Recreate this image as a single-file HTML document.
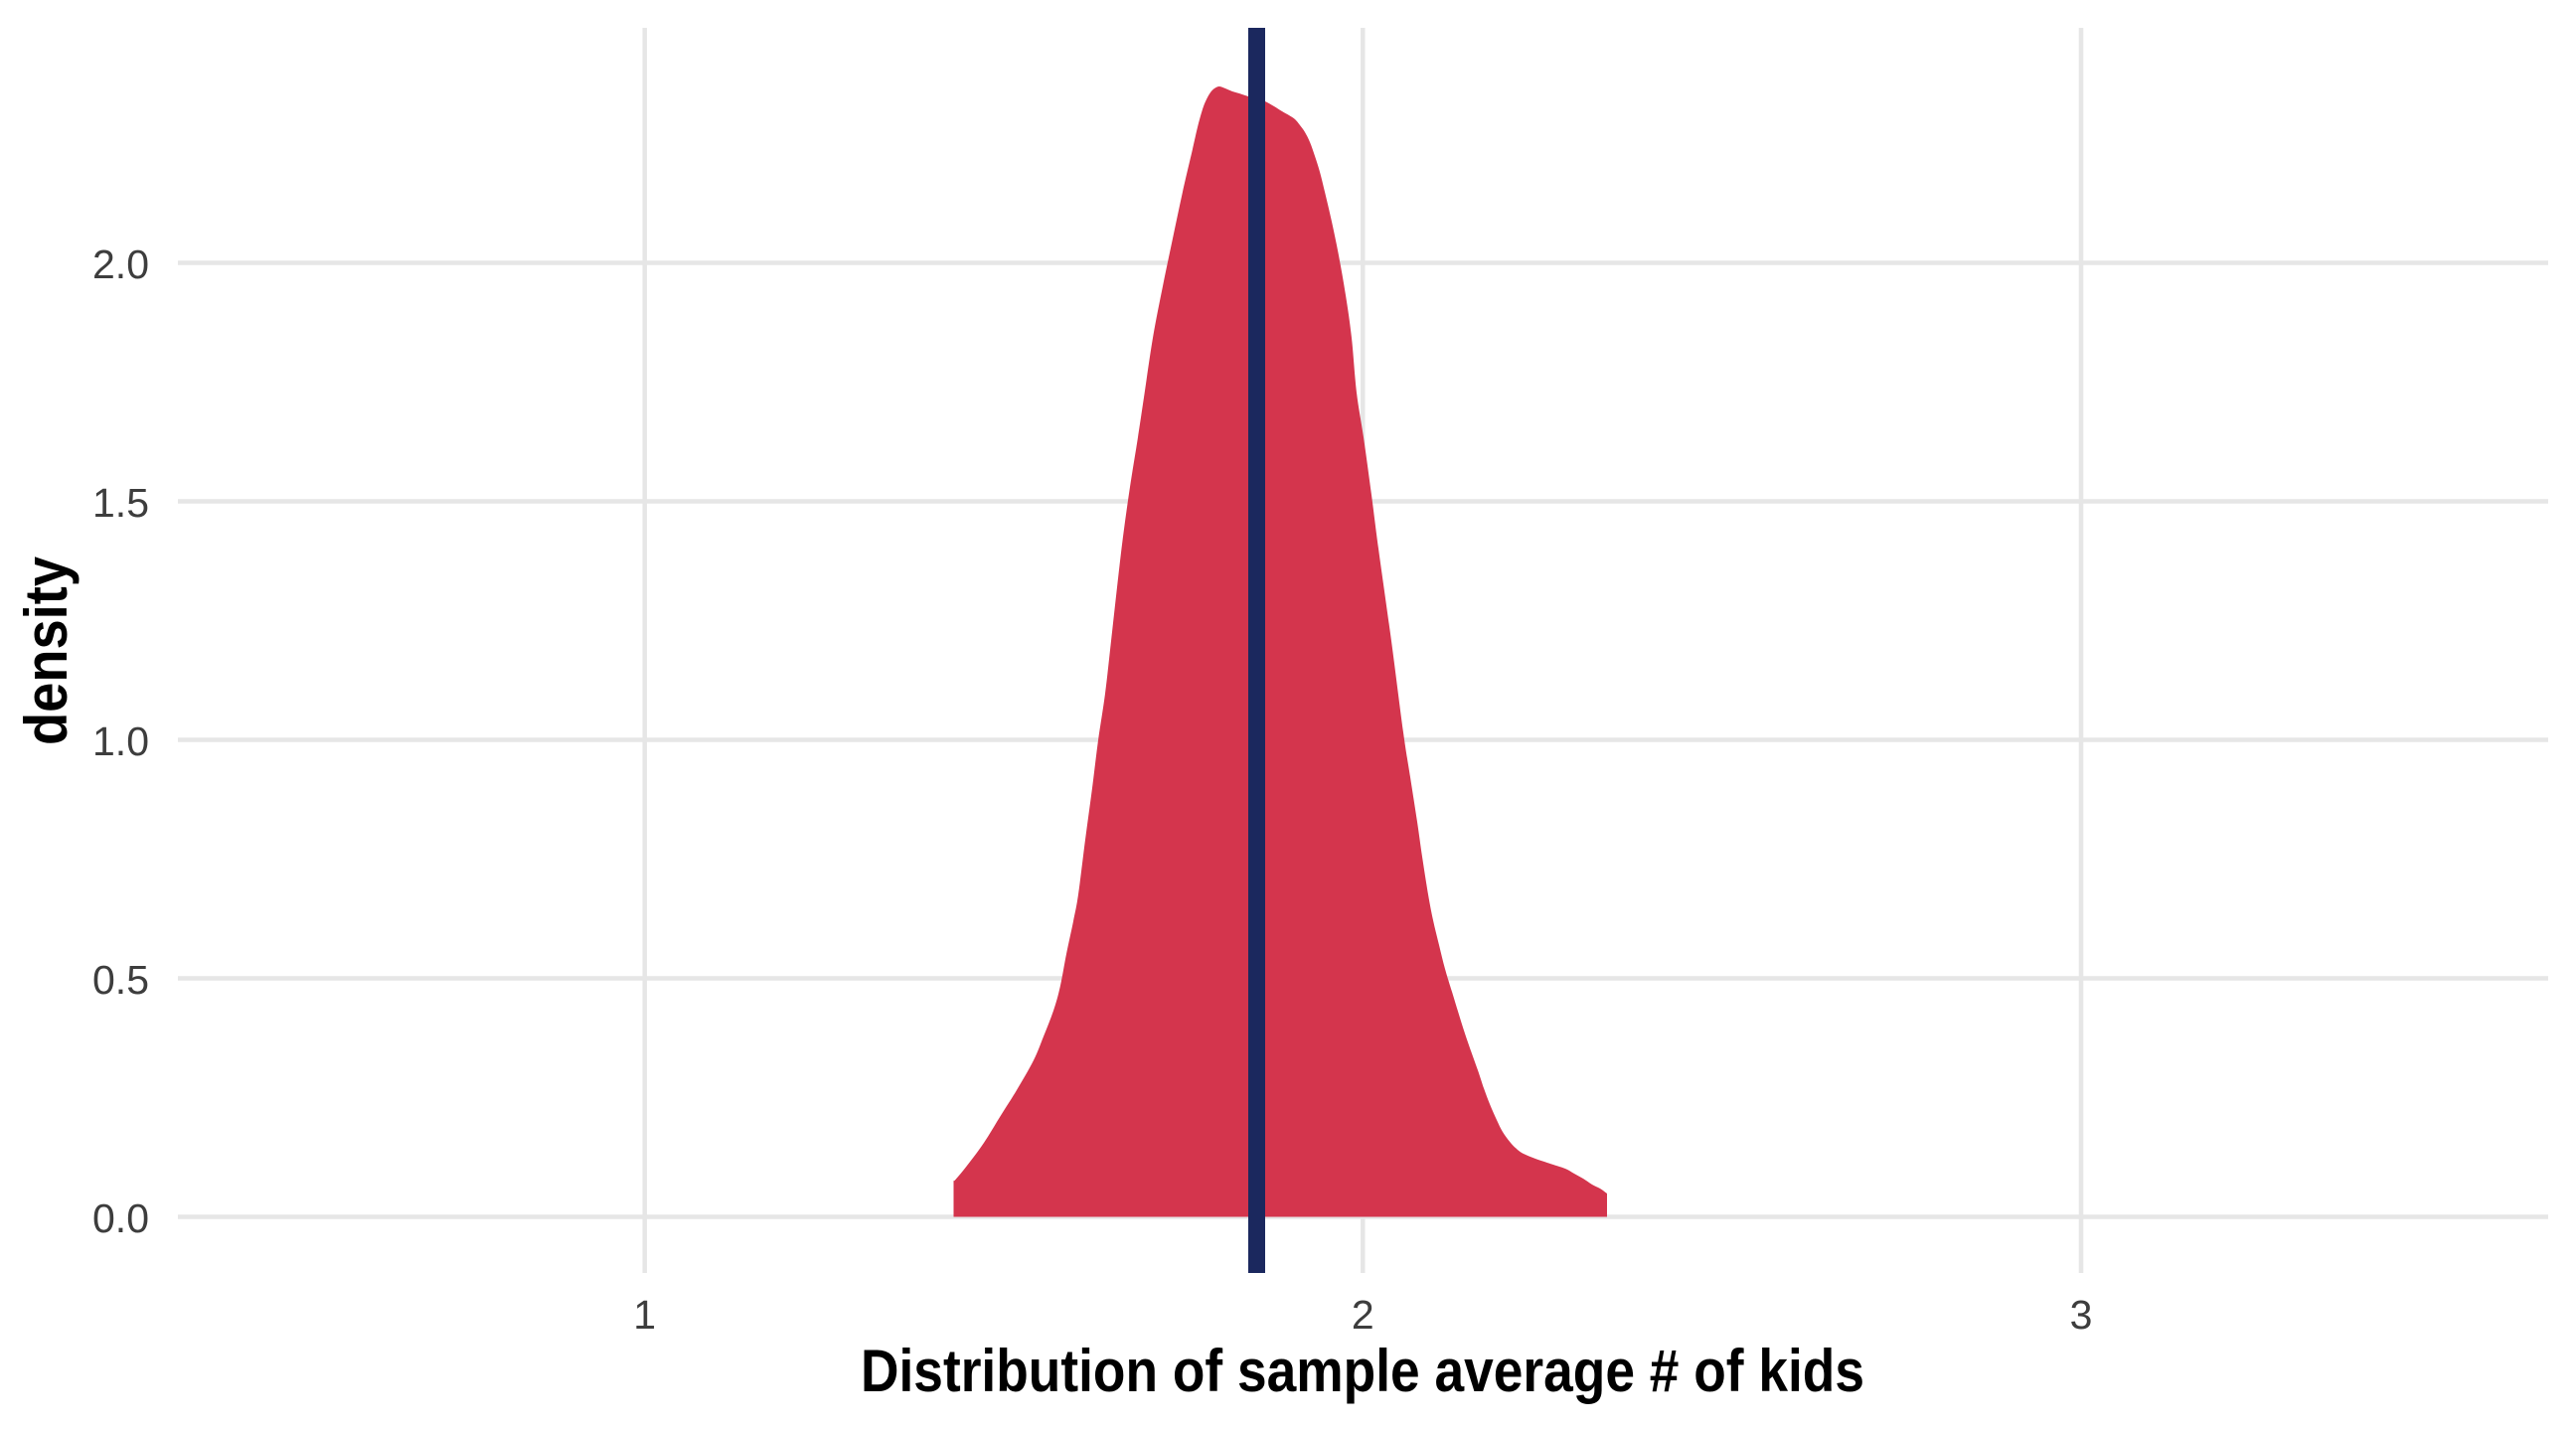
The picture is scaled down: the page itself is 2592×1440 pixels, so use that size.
<!DOCTYPE html>
<html>
<head>
<meta charset="utf-8">
<style>
  html,body{margin:0;padding:0;background:#ffffff;}
  svg{display:block;}
</style>
</head>
<body>
<svg width="2592" height="1440" viewBox="0 0 2592 1440" xmlns="http://www.w3.org/2000/svg">
  <rect x="0" y="0" width="2592" height="1440" fill="#ffffff"/>
  <!-- gridlines -->
  <g stroke="#e6e6e6" stroke-width="4.5" fill="none">
    <line x1="179" y1="264.5" x2="2564" y2="264.5"/>
    <line x1="179" y1="504.5" x2="2564" y2="504.5"/>
    <line x1="179" y1="744.5" x2="2564" y2="744.5"/>
    <line x1="179" y1="984.5" x2="2564" y2="984.5"/>
    <line x1="179" y1="1224.5" x2="2564" y2="1224.5"/>
    <line x1="648.7" y1="28" x2="648.7" y2="1281"/>
    <line x1="1371.3" y1="28" x2="1371.3" y2="1281"/>
    <line x1="2094" y1="28" x2="2094" y2="1281"/>
  </g>
  <!-- density (static fallback polygon, smoothed by script below) -->
  <polygon id="dens" fill="#d4354d" points="
    959.5,1224.5 959.5,1188 961.7,1186.7 973,1173 990,1150 1006.7,1123 1023,1097 1040,1067
    1050,1043 1060,1017 1066.7,993 1073,960 1080,927 1085,900 1092,845 1099,793
    1105,745 1112,698 1118,645 1124,591 1130,540 1137,490 1145,440 1151,400 1160,340
    1170,288 1180,240 1190,193 1200,150 1205,128 1210,110 1214,100 1218,93 1222,89 1227,87
    1233,89 1240,92 1247,94 1256,97 1265,99 1273,102 1282,107 1290,112 1297,116 1303,120
    1308,126 1313,133 1318,143 1323,157 1328,173 1333,193 1340,223 1347,257 1354,297 1360,340
    1365,395 1372,440 1380,498 1387,552 1400,645 1412,737 1419,782 1426,827 1431,862 1437,900
    1442,926 1448,951 1454,975 1461,998 1474,1040 1487,1077 1493,1095 1499,1111 1506,1127
    1512,1139 1520,1150 1527,1157 1533,1161 1545,1166 1563,1172 1575,1176 1584,1181 1593,1186
    1602,1192 1610,1196 1617,1201 1617,1224.5"/>
  <path id="densSmooth" fill="#d4354d" d=""/>
  <!-- mean line -->
  <rect x="1256" y="28" width="17" height="1253" fill="#1b285e"/>
  <!-- y tick labels -->
  <g font-family="'Liberation Sans', sans-serif" font-size="41" fill="#3d3d3d" text-anchor="end">
    <text x="150" y="280">2.0</text>
    <text x="150" y="520">1.5</text>
    <text x="150" y="760">1.0</text>
    <text x="150" y="1000">0.5</text>
    <text x="150" y="1240">0.0</text>
  </g>
  <!-- x tick labels -->
  <g font-family="'Liberation Sans', sans-serif" font-size="41" fill="#3d3d3d" text-anchor="middle">
    <text x="648.7" y="1337">1</text>
    <text x="1371.3" y="1337">2</text>
    <text x="2094" y="1337">3</text>
  </g>
  <!-- axis titles -->
  <text x="866" y="1400" font-family="'Liberation Sans', sans-serif" font-weight="bold" font-size="60" fill="#000000" textLength="1010" lengthAdjust="spacingAndGlyphs">Distribution of sample average # of kids</text>
  <text transform="translate(67,750) rotate(-90)" x="0" y="0" font-family="'Liberation Sans', sans-serif" font-weight="bold" font-size="60" fill="#000000" textLength="190" lengthAdjust="spacingAndGlyphs">density</text>
</svg>
<script>
(function(){
  try{
    var poly=document.getElementById('dens');
    var raw=poly.getAttribute('points').trim().split(/\s+/).map(function(s){var p=s.split(',');return [parseFloat(p[0]),parseFloat(p[1])];});
    // curve points exclude the first (bottom-left) and last (bottom-right) baseline corners
    var pts=raw.slice(1,raw.length-1);
    var d='M'+raw[0][0]+','+raw[0][1]+' L'+pts[0][0]+','+pts[0][1];
    for(var i=0;i<pts.length-1;i++){
      var p0=pts[i-1]||pts[i],p1=pts[i],p2=pts[i+1],p3=pts[i+2]||pts[i+1];
      var c1x=p1[0]+(p2[0]-p0[0])/6,c1y=p1[1]+(p2[1]-p0[1])/6;
      var c2x=p2[0]-(p3[0]-p1[0])/6,c2y=p2[1]-(p3[1]-p1[1])/6;
      d+=' C'+c1x.toFixed(2)+','+c1y.toFixed(2)+' '+c2x.toFixed(2)+','+c2y.toFixed(2)+' '+p2[0]+','+p2[1];
    }
    var last=raw[raw.length-1];
    d+=' L'+last[0]+','+last[1]+' Z';
    var sm=document.getElementById('densSmooth');
    sm.setAttribute('d',d);
    poly.setAttribute('fill','none');
  }catch(e){}
})();
</script>
</body>
</html>
